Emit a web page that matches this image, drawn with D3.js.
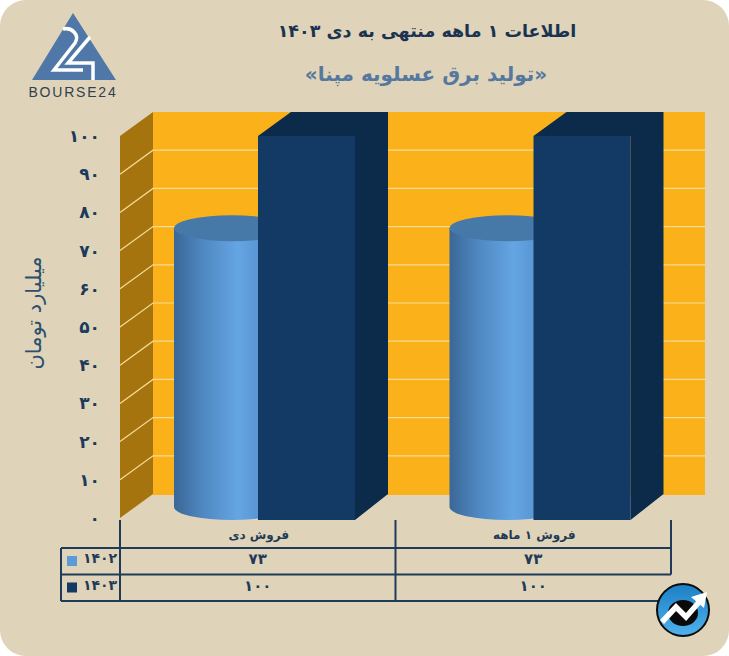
<!DOCTYPE html>
<html>
<head>
<meta charset="utf-8">
<script src="https://cdnjs.cloudflare.com/ajax/libs/d3/7.8.5/d3.min.js"></script>
<style>
html, body { margin: 0; padding: 0; background: #fff; }
svg { display: block; }
text { font-family: "DejaVu Sans", sans-serif; font-weight: bold; }
</style>
</head>
<body>
<script>
var categories = ['فروش دی', 'فروش ۱ ماهه'];
var seriesNames = ['۱۴۰۲', '۱۴۰۳'];
var values1402 = [73, 73];
var values1403 = [100, 100];
var yTicks = [0, 10, 20, 30, 40, 50, 60, 70, 80, 90, 100];

var outerWidth = 729,
    outerHeight = 656,
    depthX = 33,
    depthY = 24,
    cylWidth = 116,
    cylRy = 13,
    boxWidth = 97;

var navy = '#1f3b57';

function faDigits(n) {
  return String(n).replace(/[0-9]/g, function (d) { return '۰۱۲۳۴۵۶۷۸۹'[+d]; });
}

var svg = d3.select('body').append('svg')
    .attr('width', outerWidth)
    .attr('height', outerHeight);

var defs = svg.append('defs');
var cyl = defs.append('linearGradient').attr('id', 'cyl');
cyl.append('stop').attr('offset', '0%').attr('stop-color', '#3a6796');
cyl.append('stop').attr('offset', '25%').attr('stop-color', '#4f88c2');
cyl.append('stop').attr('offset', '55%').attr('stop-color', '#64a5e3');
cyl.append('stop').attr('offset', '100%').attr('stop-color', '#4a80ba');
var ball = defs.append('linearGradient').attr('id', 'ball').attr('x1', 0).attr('x2', 0).attr('y1', 0).attr('y2', 1);
ball.append('stop').attr('offset', '0%').attr('stop-color', '#1c7fc4');
ball.append('stop').attr('offset', '100%').attr('stop-color', '#4fb2ee');

svg.append('rect')
    .attr('width', outerWidth)
    .attr('height', outerHeight)
    .attr('rx', 26)
    .attr('fill', '#dfd4b9');

var x = d3.scaleBand().domain(categories).range([120, 671]);
var y = d3.scaleLinear().domain([0, 100]).range([518, 136]);

// back wall and left wall
svg.append('rect')
    .attr('x', x.range()[0] + depthX)
    .attr('y', y(100) - depthY)
    .attr('width', x.range()[1] - x.range()[0] + 1)
    .attr('height', y(0) - y(100) + 1)
    .attr('fill', '#fbb119');

svg.append('path')
    .attr('d', d3.line()([
      [x.range()[0], y(0)],
      [x.range()[0], y(100)],
      [x.range()[0] + depthX, y(100) - depthY],
      [x.range()[0] + depthX, y(0) - depthY]
    ]) + 'Z')
    .attr('fill', '#a5740f');

svg.selectAll('.grid').data(yTicks.slice(1, -1)).enter().append('path')
    .attr('class', 'grid')
    .attr('fill', 'none')
    .attr('stroke', '#f7dc97')
    .attr('stroke-width', 1.2)
    .attr('d', function (d) {
      return d3.line()([
        [x.range()[0], y(d)],
        [x.range()[0] + depthX, y(d) - depthY],
        [x.range()[1] + depthX + 1, y(d) - depthY]
      ]);
    });

// cylinders
var cyls = svg.selectAll('.cyl').data(values1402).enter().append('g')
    .attr('class', 'cyl')
    .attr('transform', function (d, i) { return 'translate(' + (x(categories[i]) + 54) + ',0)'; });

cyls.append('path')
    .attr('fill', 'url(#cyl)')
    .attr('d', function (d) {
      var rx = cylWidth / 2, base = y(0) - 11;
      var top = y(d) - 11;
      return 'M0,' + top + 'L0,' + base +
        'A' + rx + ',' + cylRy + ' 0 0 0 ' + cylWidth + ',' + base +
        'L' + cylWidth + ',' + top + 'Z';
    });

cyls.append('ellipse')
    .attr('cx', cylWidth / 2)
    .attr('cy', function (d) { return y(d) - 11; })
    .attr('rx', cylWidth / 2)
    .attr('ry', cylRy)
    .attr('fill', '#4678a8');

// boxes
var boxes = svg.selectAll('.box').data(values1403).enter().append('g')
    .attr('class', 'box')
    .attr('transform', function (d, i) { return 'translate(' + (x(categories[i]) + 138) + ',0)'; });

boxes.append('path')
    .attr('fill', '#0c2a49')
    .attr('d', function (d) {
      return d3.line()([
        [0, y(d)],
        [depthX, y(d) - depthY],
        [boxWidth + depthX, y(d) - depthY],
        [boxWidth + depthX, y(0) - depthY],
        [boxWidth, y(0) + 2],
        [boxWidth, y(d)]
      ]) + 'Z';
    });

boxes.append('rect')
    .attr('y', function (d) { return y(d); })
    .attr('width', boxWidth)
    .attr('height', function (d) { return y(0) - y(d) + 2; })
    .attr('fill', '#123a65');

// y axis
var yAxis = d3.axisLeft(y).tickValues(yTicks).tickSize(0).tickPadding(20).tickFormat(faDigits);
var yG = svg.append('g').attr('transform', 'translate(120,0)').call(yAxis);
yG.select('.domain').remove();
yG.selectAll('text')
    .attr('direction', 'ltr')
    .style('font-size', '17px')
    .style('font-family', '"DejaVu Sans", sans-serif')
    .attr('fill', '#1b3a5c');

svg.append('text')
    .attr('transform', 'translate(35,313) rotate(-90)')
    .attr('text-anchor', 'middle')
    .attr('dominant-baseline', 'middle')
    .attr('fill', '#2c4f70')
    .style('font-size', '21px')
    .style('font-weight', 'normal')
    .text('میلیارد تومان');

// titles
svg.append('text')
    .attr('x', 427).attr('y', 37)
    .attr('text-anchor', 'middle')
    .attr('fill', '#1b3350')
    .style('font-size', '17.5px')
    .text('اطلاعات ۱ ماهه منتهی به دی ۱۴۰۳');

svg.append('text')
    .attr('x', 426).attr('y', 81)
    .attr('text-anchor', 'middle')
    .attr('fill', '#56789f')
    .style('font-size', '20px')
    .text('«تولید برق عسلویه مپنا»');

// data table
var rowY = [548, 574.5, 601];
var tableLeft = 61;
var tableLines = svg.append('g').attr('stroke', navy).attr('stroke-width', 2);
rowY.forEach(function (ry) {
  tableLines.append('line')
      .attr('x1', tableLeft).attr('x2', x.range()[1])
      .attr('y1', ry).attr('y2', ry);
});
tableLines.append('line')
    .attr('x1', tableLeft).attr('x2', tableLeft)
    .attr('y1', rowY[0]).attr('y2', rowY[2]);
x.domain().concat([null]).forEach(function (c) {
  var lx = c === null ? x.range()[1] : x(c);
  tableLines.append('line')
      .attr('x1', lx).attr('x2', lx)
      .attr('y1', 520)
      .attr('y2', c === null ? rowY[1] : rowY[2]);
});

svg.selectAll('.cat').data(categories).enter().append('text')
    .attr('class', 'cat')
    .attr('x', function (d) { return x(d) + x.bandwidth() / 2 + 1; })
    .attr('y', 539)
    .attr('text-anchor', 'middle')
    .attr('fill', '#1f3b57')
    .style('font-size', '12px')
    .text(function (d) { return d; });

[values1402, values1403].forEach(function (vals, r) {
  svg.selectAll('.val' + r).data(vals).enter().append('text')
      .attr('class', 'val' + r)
      .attr('x', function (d, i) { return x(categories[i]) + x.bandwidth() / 2; })
      .attr('y', rowY[r] + 16)
      .attr('text-anchor', 'middle')
      .attr('direction', 'ltr')
      .attr('fill', '#1f3b57')
      .style('font-size', '15px')
      .text(faDigits);
});

seriesNames.forEach(function (name, r) {
  svg.append('rect')
      .attr('x', 67).attr('y', rowY[r] + 8)
      .attr('width', 10).attr('height', 10)
      .attr('fill', r === 0 ? '#5b9bd5' : '#123a65');
  svg.append('text')
      .attr('x', 100).attr('y', rowY[r] + 15)
      .attr('text-anchor', 'middle')
      .attr('direction', 'ltr')
      .attr('fill', '#1f3b57')
      .style('font-size', '14px')
      .text(name);
});

// logo
var logo = svg.append('g');
logo.append('path').attr('d', 'M73,13L116,80L32,80Z').attr('fill', '#4f77a8');
logo.append('path')
    .attr('fill', 'none').attr('stroke', '#fff').attr('stroke-width', 3.5)
    .attr('d', 'M63,29C72,27 80,35 75,43L54,70L83,70');
logo.append('path')
    .attr('fill', 'none').attr('stroke', '#fff').attr('stroke-width', 3.5)
    .attr('d', 'M90,37L68,63L93,63L93,80');
logo.append('text')
    .attr('x', 73).attr('y', 97)
    .attr('text-anchor', 'middle')
    .attr('fill', '#33404f')
    .style('font-family', '"Liberation Sans", sans-serif')
    .style('font-weight', 'normal')
    .style('font-size', '14px')
    .style('letter-spacing', '1.8px')
    .text('BOURSE24');

// badge
var badge = svg.append('g').attr('transform', 'translate(683,610)');
badge.append('circle').attr('r', 26).attr('fill', 'url(#ball)').attr('stroke', '#0b0b0b').attr('stroke-width', 2);
badge.append('ellipse').attr('rx', 15).attr('ry', 13).attr('cy', 3).attr('fill', '#0a0a0a');
badge.append('path')
    .attr('fill', 'none').attr('stroke', '#fff').attr('stroke-width', 5.5)
    .attr('d', 'M-21,12L-7,-3L3,7L17,-9');
badge.append('path').attr('fill', '#fff').attr('d', 'M8,-13L24,-18L21,-2Z');
</script>
</body>
</html>
